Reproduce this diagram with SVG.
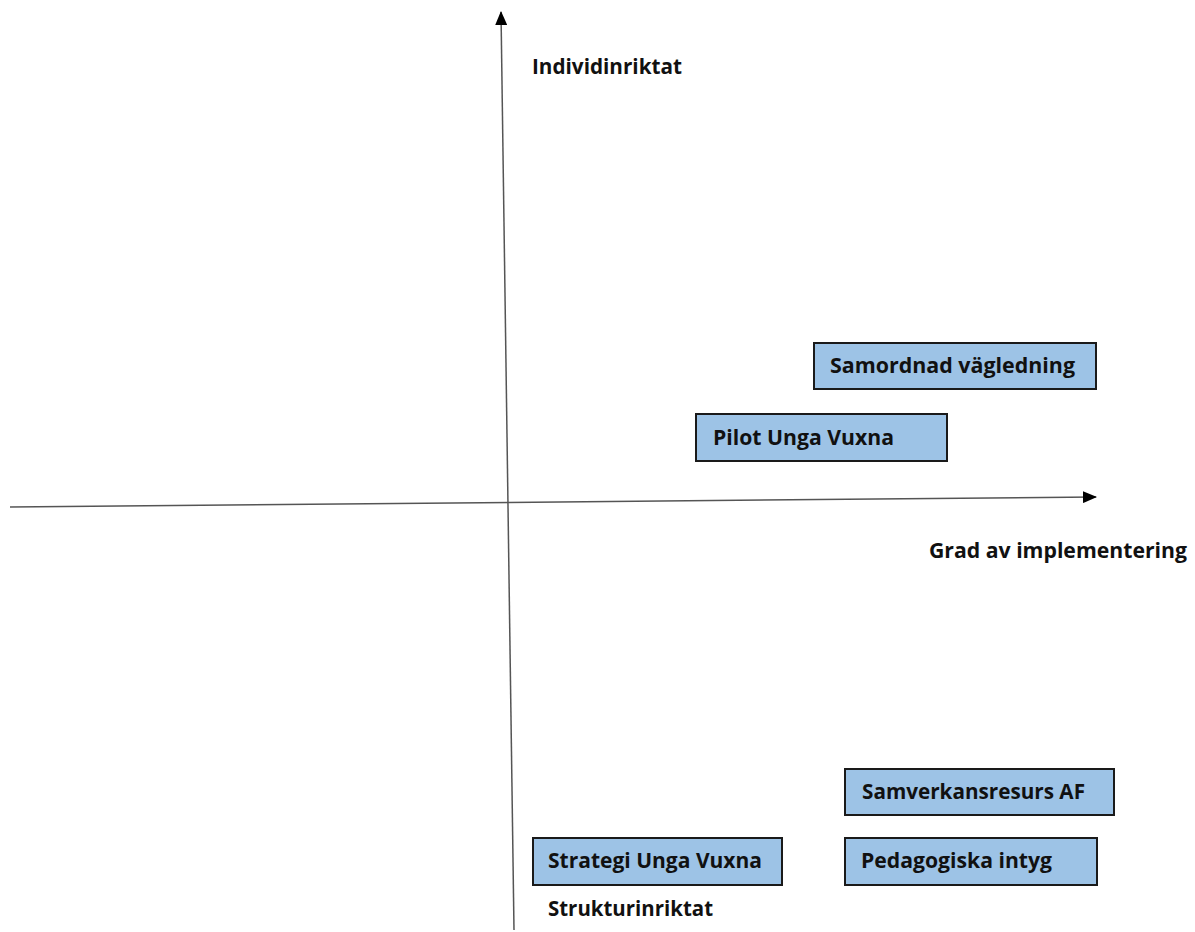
<svg xmlns="http://www.w3.org/2000/svg" width="1195" height="932" viewBox="0 0 1195 932">
<style>
.box{fill:#9dc3e6;stroke:#1a1a1a;stroke-width:2}
.t{font-family:"Open Sans","Liberation Sans",sans-serif;font-weight:700;font-size:21px;fill:#111}
.axis{stroke:#555;stroke-width:1.5;fill:none}
</style>
<defs>
<marker id="ah" viewBox="0 0 14 12" refX="13" refY="6" markerWidth="14" markerHeight="12" markerUnits="userSpaceOnUse" orient="auto">
<path d="M0,0 L14,6 L0,12 z" fill="#000"/>
</marker>
</defs>
<rect width="1195" height="932" fill="#fff"/>
<g id="connectors">
<line class="axis" x1="514" y1="930" x2="501" y2="12" marker-end="url(#ah)"/>
<line class="axis" x1="10" y1="507" x2="1096" y2="497" marker-end="url(#ah)"/>
</g>
<g id="label-individ"><text class="t" x="532" y="74" textLength="150" lengthAdjust="spacingAndGlyphs">Individinriktat</text></g>
<g id="label-grad"><text class="t" x="929" y="558" textLength="258" lengthAdjust="spacingAndGlyphs">Grad av implementering</text></g>
<g id="label-struktur"><text class="t" x="548" y="916" textLength="165" lengthAdjust="spacingAndGlyphs">Strukturinriktat</text></g>
<g id="node-samordnad"><rect class="box" x="814" y="343" width="282" height="46"/><text class="t" x="830" y="373" textLength="245" lengthAdjust="spacingAndGlyphs">Samordnad vägledning</text></g>
<g id="node-pilot"><rect class="box" x="696" y="414" width="251" height="47"/><text class="t" x="713" y="445" textLength="181" lengthAdjust="spacingAndGlyphs">Pilot Unga Vuxna</text></g>
<g id="node-samverkan"><rect class="box" x="845" y="769" width="269" height="46"/><text class="t" x="862" y="799" textLength="223" lengthAdjust="spacingAndGlyphs">Samverkansresurs AF</text></g>
<g id="node-pedagogiska"><rect class="box" x="845" y="838" width="252" height="47"/><text class="t" x="861" y="868" textLength="191" lengthAdjust="spacingAndGlyphs">Pedagogiska intyg</text></g>
<g id="node-strategi"><rect class="box" x="533" y="838" width="249" height="47"/><text class="t" x="548" y="868" textLength="214" lengthAdjust="spacingAndGlyphs">Strategi Unga Vuxna</text></g>
</svg>
